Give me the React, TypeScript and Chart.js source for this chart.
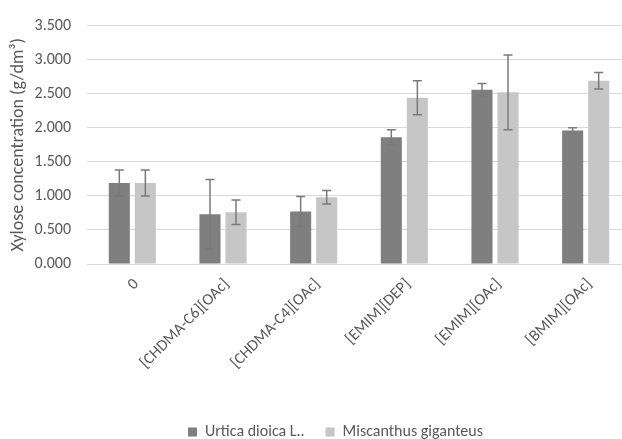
import { useEffect, useRef } from "react";
import { Chart, registerables } from "chart.js";

Chart.register(...registerables);

const categories = ["0", "[CHDMA-C6][OAc]", "[CHDMA-C4][OAc]", "[EMIM][DEP]", "[EMIM][OAc]", "[BMIM][OAc]"];
const seriesNames = ["Urtica dioica L..", "Miscanthus giganteus"];
const urticaValues = [1.19, 0.73, 0.77, 1.86, 2.56, 1.96];
const urticaErrors = [0.19, 0.51, 0.22, 0.11, 0.09, 0.04];
const miscanthusValues = [1.19, 0.76, 0.98, 2.44, 2.52, 2.69];
const miscanthusErrors = [0.19, 0.18, 0.10, 0.25, 0.55, 0.12];
const yTicks = [0, 0.5, 1, 1.5, 2, 2.5, 3, 3.5];

const errorsByDataset = [urticaErrors, miscanthusErrors];

const errorBarPlugin = {
  id: "errorBars",
  afterDatasetsDraw(chart: any) {
    const ctx = chart.ctx;
    const yScale = chart.scales.y;
    ctx.save();
    ctx.strokeStyle = "#7a7a7a";
    ctx.lineWidth = 1.5;
    chart.data.datasets.forEach((ds: any, di: number) => {
      const meta = chart.getDatasetMeta(di);
      const errs = errorsByDataset[di];
      meta.data.forEach((el: any, i: number) => {
        const v = ds.data[i];
        const e = errs[i];
        const x = el.x;
        const yTop = yScale.getPixelForValue(v + e);
        const yBot = yScale.getPixelForValue(v - e);
        const cap = 4.5;
        ctx.beginPath();
        ctx.moveTo(x, yTop);
        ctx.lineTo(x, yBot);
        ctx.moveTo(x - cap, yTop);
        ctx.lineTo(x + cap, yTop);
        ctx.moveTo(x - cap, yBot);
        ctx.lineTo(x + cap, yBot);
        ctx.stroke();
      });
    });
    ctx.restore();
  },
};

const legendShiftPlugin = {
  id: "legendShift",
  afterLayout(chart: any) {
    const lg = chart.legend;
    if (lg) {
      lg.left += 20;
      lg.right += 20;
    }
  },
};

export default function App() {
  const ref = useRef<HTMLCanvasElement | null>(null);
  useEffect(() => {
    if (!ref.current) return;
    const font = "Carlito";
    const chart = new Chart(ref.current, {
      type: "bar",
      data: {
        labels: categories,
        datasets: [
          {
            label: seriesNames[0],
            data: urticaValues,
            backgroundColor: "#7f7f7f",
            categoryPercentage: 0.574,
            barPercentage: 0.81,
          },
          {
            label: seriesNames[1],
            data: miscanthusValues,
            backgroundColor: "#c6c6c6",
            categoryPercentage: 0.574,
            barPercentage: 0.81,
          },
        ],
      },
      options: {
        responsive: false,
        animation: false,
        layout: { padding: { top: 22, right: 0, left: 0, bottom: 0 } },
        plugins: {
          legend: {
            position: "bottom",
            labels: {
              boxWidth: 9,
              boxHeight: 9,
              padding: 21,
              color: "#595959",
              font: { family: font, size: 16 },
            },
          },
          tooltip: { enabled: false },
        },
        scales: {
          x: {
            grid: { display: false },
            border: { display: false },
            afterFit: (scale: any) => {
              scale.height = 139;
            },
            ticks: {
              minRotation: 45,
              maxRotation: 45,
              padding: 3,
              labelOffset: 4,
              color: "#595959",
              font: { family: font, size: 16 },
            },
          },
          y: {
            min: 0,
            max: 3.5,
            afterBuildTicks: (scale: any) => {
              scale.ticks = yTicks.map((v) => ({ value: v }));
            },
            afterFit: (scale: any) => {
              scale.width = 87;
            },
            grid: { color: "#d9d9d9", lineWidth: 1, drawTicks: false },
            border: { display: false },
            ticks: {
              padding: 16,
              color: "#595959",
              font: { family: font, size: 16 },
              callback: (v: any) => Number(v).toFixed(3),
            },
            title: {
              display: true,
              text: "Xylose concentration (g/dm³)",
              color: "#595959",
              font: { family: font, size: 18 },
              padding: { top: 8, bottom: 0 },
            },
          },
        },
      },
      plugins: [errorBarPlugin, legendShiftPlugin],
    });
    return () => chart.destroy();
  }, []);
  return (
    <div style={{ position: "fixed", left: 0, top: 0, width: 622, height: 439, overflow: "hidden", background: "#fff" }}>
      <canvas ref={ref} width={631} height={450} style={{ display: "block" }} />
    </div>
  );
}
